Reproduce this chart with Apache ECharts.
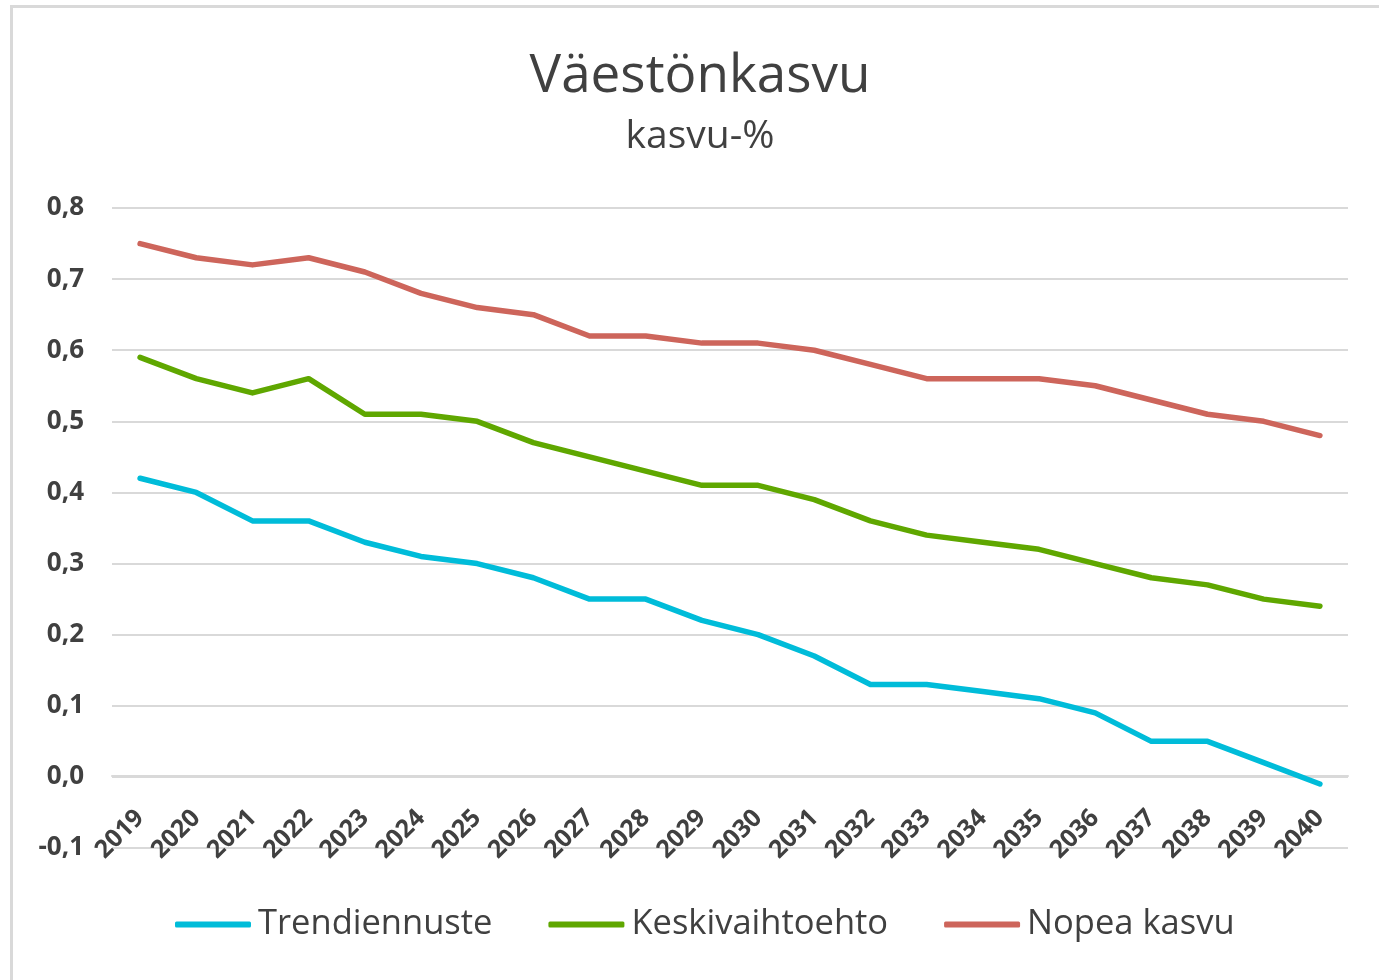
<!DOCTYPE html>
<html>
<head>
<meta charset="utf-8">
<script src="https://cdn.jsdelivr.net/npm/echarts@6/dist/echarts.min.js"></script>
<style>
  html, body { margin: 0; padding: 0; background: #fff; }
  #chart { width: 1379px; height: 980px; }
</style>
</head>
<body>
<div id="chart"></div>
<script>
// years on the x axis
var years = ['2019', '2020', '2021', '2022', '2023', '2024', '2025', '2026', '2027', '2028', '2029',
             '2030', '2031', '2032', '2033', '2034', '2035', '2036', '2037', '2038', '2039', '2040'];

// growth-% per scenario
var trendiennuste = [0.42, 0.40, 0.36, 0.36, 0.33, 0.31, 0.30, 0.28, 0.25, 0.25, 0.22,
                     0.20, 0.17, 0.13, 0.13, 0.12, 0.11, 0.09, 0.05, 0.05, 0.02, -0.01];
var keskivaihtoehto = [0.59, 0.56, 0.54, 0.56, 0.51, 0.51, 0.50, 0.47, 0.45, 0.43, 0.41,
                       0.41, 0.39, 0.36, 0.34, 0.33, 0.32, 0.30, 0.28, 0.27, 0.25, 0.24];
var nopeaKasvu = [0.75, 0.73, 0.72, 0.73, 0.71, 0.68, 0.66, 0.65, 0.62, 0.62, 0.61,
                  0.61, 0.60, 0.58, 0.56, 0.56, 0.56, 0.55, 0.53, 0.51, 0.50, 0.48];

var seriesNames = ['Trendiennuste', 'Keskivaihtoehto', 'Nopea kasvu'];
var seriesColors = ['#00bcd9', '#5fa700', '#cd655b'];

var font = '"Open Sans", "Noto Sans", sans-serif';

function makeLine(name, data, color) {
  return {
    name: name,
    type: 'line',
    data: data,
    symbol: 'none',
    lineStyle: { color: color, width: 5.5, join: 'round', cap: 'round' },
    itemStyle: { color: color }
  };
}

var myChart = echarts.init(document.getElementById('chart'), null, { renderer: 'canvas' });

var option = {
  backgroundColor: '#ffffff',
  animation: false,
  graphic: [{
    // chart frame
    type: 'rect',
    shape: { x: 11.5, y: 6.5, width: 1500, height: 1100 },
    style: { fill: 'none', stroke: '#d9d9d9', lineWidth: 3 },
    silent: true
  }, {
    type: 'text',
    x: 700,
    y: 103,
    style: {
      text: 'Väestönkasvu', fill: '#404040', align: 'center', verticalAlign: 'bottom',
      font: 'normal 53px ' + font
    },
    silent: true
  }, {
    type: 'text',
    x: 700,
    y: 137,
    style: {
      text: 'kasvu-%', fill: '#404040', align: 'center', verticalAlign: 'middle',
      font: 'normal 39px ' + font
    },
    silent: true
  }],
  legend: {
    data: seriesNames,
    left: 170,
    top: 902,
    icon: 'roundRect',
    itemWidth: 76,
    itemHeight: 6,
    itemGap: 56,
    textStyle: { fontFamily: font, fontSize: 34.5, color: '#404040', padding: [0, 0, 0, 2] }
  },
  grid: {
    left: 112,
    right: 31,
    top: 208,
    bottom: 132
  },
  xAxis: {
    type: 'category',
    data: years,
    boundaryGap: true,
    position: 'bottom',
    offset: -72,
    axisLine: { show: true, onZero: false, lineStyle: { color: '#d9d9d9', width: 2 } },
    axisTick: { show: false },
    axisLabel: {
      rotate: 45,
      margin: 38,
      interval: 0,
      fontFamily: font,
      fontSize: 25,
      fontWeight: 'bold',
      color: '#404040'
    }
  },
  yAxis: {
    type: 'value',
    min: -0.1,
    max: 0.8,
    interval: 0.1,
    axisLine: { show: false },
    axisTick: { show: false },
    splitLine: { lineStyle: { color: '#d9d9d9', width: 2 } },
    axisLabel: {
      margin: 28,
      fontFamily: font,
      fontSize: 26,
      fontWeight: 'bold',
      color: '#404040',
      formatter: function (v) { return v.toFixed(1).replace('.', ','); }
    }
  },
  series: [
    makeLine(seriesNames[0], trendiennuste, seriesColors[0]),
    makeLine(seriesNames[1], keskivaihtoehto, seriesColors[1]),
    makeLine(seriesNames[2], nopeaKasvu, seriesColors[2])
  ]
};

myChart.setOption(option);
</script>
</body>
</html>
